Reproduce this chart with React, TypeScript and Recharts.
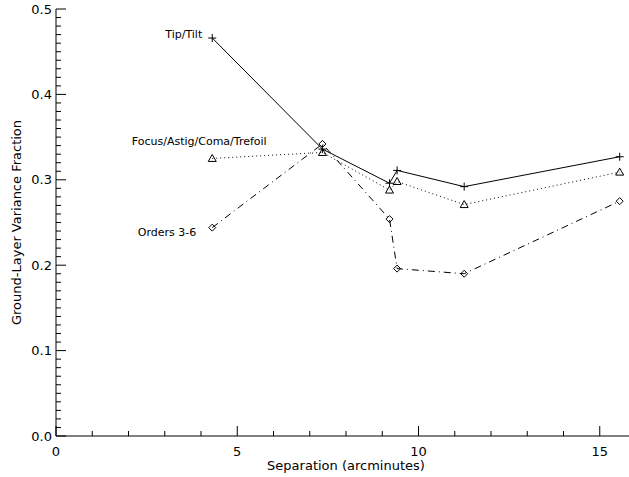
import React from "react";
import { LineChart, Line, XAxis, YAxis, LabelList, Label } from "recharts";

const separation = [4.31, 7.35, 9.2, 9.41, 11.26, 15.55];
const tipTilt = [0.466, 0.336, 0.296, 0.311, 0.292, 0.327];
const focusAstig = [0.325, 0.332, 0.288, 0.298, 0.271, 0.309];
const orders36 = [0.244, 0.342, 0.254, 0.196, 0.19, 0.275];

const xTicks = [0, 1, 2, 3, 4, 5, 6, 7, 8, 9, 10, 11, 12, 13, 14, 15, 16];
const xMajor = [0, 5, 10, 15];
const yMajor = [0, 0.1, 0.2, 0.3, 0.4, 0.5];
const yTickLabels = ["0.0", "0.1", "0.2", "0.3", "0.4", "0.5"];
const yTicks: number[] = [];
for (let i = 0; i <= 50; i++) yTicks.push(Math.round(i) / 100);

const data = separation.map((x, i) => ({
  x,
  tip: tipTilt[i],
  focus: focusAstig[i],
  orders: orders36[i],
}));

const FONT = "'DejaVu Sans', sans-serif";

const isYMajor = (v: number) => yMajor.some((m) => Math.abs(m - v) < 1e-6);
const yLabel = (v: number) => {
  const i = yMajor.findIndex((m) => Math.abs(m - v) < 1e-6);
  return i >= 0 ? yTickLabels[i] : "";
};

const XTick = (props: any) => {
  const { x, y, payload, side } = props;
  const v = payload.value;
  const major = xMajor.includes(v);
  const len = major ? 10 : 5;
  const dir = side === "bottom" ? -1 : 1;
  return (
    <g>
      <line x1={x} y1={y} x2={x} y2={y + dir * len} stroke="#000" strokeWidth={1} />
      {side === "bottom" && major && (
        <text x={x} y={y + 20} textAnchor="middle" fontSize={13} fontFamily={FONT} fill="#000">
          {v}
        </text>
      )}
    </g>
  );
};

const YTick = (props: any) => {
  const { x, y, payload, side } = props;
  const v = payload.value;
  const major = isYMajor(v);
  const len = major ? 10 : 5;
  const dir = side === "left" ? 1 : -1;
  return (
    <g>
      <line x1={x} y1={y} x2={x + dir * len} y2={y} stroke="#000" strokeWidth={1} />
      {side === "left" && major && (
        <text x={x - 4} y={y} dy="0.36em" textAnchor="end" fontSize={13} fontFamily={FONT} fill="#000">
          {yLabel(v)}
        </text>
      )}
    </g>
  );
};

const PlusDot = (props: any) => {
  const { cx, cy } = props;
  if (cx == null || cy == null) return <g />;
  const s = 4;
  return (
    <g>
      <line x1={cx - s} y1={cy} x2={cx + s} y2={cy} stroke="#000" strokeWidth={1} />
      <line x1={cx} y1={cy - s} x2={cx} y2={cy + s} stroke="#000" strokeWidth={1} />
    </g>
  );
};

const TriDot = (props: any) => {
  const { cx, cy } = props;
  if (cx == null || cy == null) return <g />;
  return (
    <polygon
      points={`${cx},${cy - 4} ${cx - 4},${cy + 3} ${cx + 4},${cy + 3}`}
      fill="none"
      stroke="#000"
      strokeWidth={1}
    />
  );
};

const DiamondDot = (props: any) => {
  const { cx, cy } = props;
  if (cx == null || cy == null) return <g />;
  const s = 3.5;
  return (
    <polygon
      points={`${cx},${cy - s} ${cx + s},${cy} ${cx},${cy + s} ${cx - s},${cy}`}
      fill="none"
      stroke="#000"
      strokeWidth={1}
    />
  );
};

const makeNote = (text: string, anchor: string, dx: number, dy: number) => (p: any) => {
  if (p.index !== 0) return null;
  return (
    <text
      x={p.x + dx}
      y={p.y + dy}
      textAnchor={anchor}
      fontSize={11}
      fontFamily={FONT}
      fill="#000"
    >
      {text}
    </text>
  );
};

export default function App() {
  return (
    <div
      style={{
        position: "absolute",
        left: 0,
        top: 0,
        width: 629,
        height: 477,
        overflow: "hidden",
        background: "#fff",
      }}
    >
      <LineChart
        width={640}
        height={477}
        data={data}
        margin={{ top: 9, right: 4, bottom: 0, left: 0 }}
      >
        <XAxis
          dataKey="x"
          type="number"
          domain={[0, 16]}
          ticks={xTicks}
          interval={0}
          tickSize={0}
          tickMargin={0}
          tickLine={false}
          axisLine={{ stroke: "#000" }}
          height={41}
          tick={(p: any) => <XTick {...p} side="bottom" />}
        >
          <Label
            content={(p: any) => {
              const vb = p.viewBox || {};
              return (
                <text
                  x={vb.x + vb.width / 2}
                  y={vb.y + 34}
                  textAnchor="middle"
                  fontSize={13}
                  fontFamily={FONT}
                  fill="#000"
                >
                  Separation (arcminutes)
                </text>
              );
            }}
          />
        </XAxis>
        <XAxis
          xAxisId="top"
          orientation="top"
          dataKey="x"
          type="number"
          domain={[0, 16]}
          ticks={xTicks}
          interval={0}
          tickSize={0}
          tickMargin={0}
          tickLine={false}
          axisLine={{ stroke: "#000" }}
          height={0}
          tick={(p: any) => <XTick {...p} side="top" />}
        />
        <YAxis
          type="number"
          domain={[0, 0.5]}
          ticks={yTicks}
          interval={0}
          tickSize={0}
          tickMargin={0}
          tickLine={false}
          axisLine={{ stroke: "#000" }}
          width={56}
          tick={(p: any) => <YTick {...p} side="left" />}
        >
          <Label
            content={(p: any) => {
              const vb = p.viewBox || {};
              const cx = 16.5;
              const cy = vb.y + vb.height / 2;
              return (
                <text
                  x={cx}
                  y={cy}
                  dy="0.36em"
                  transform={`rotate(-90, ${cx}, ${cy})`}
                  textAnchor="middle"
                  fontSize={13}
                  fontFamily={FONT}
                  fill="#000"
                >
                  Ground-Layer Variance Fraction
                </text>
              );
            }}
          />
        </YAxis>
        <YAxis
          yAxisId="right"
          orientation="right"
          type="number"
          domain={[0, 0.5]}
          ticks={yTicks}
          interval={0}
          tickSize={0}
          tickMargin={0}
          tickLine={false}
          axisLine={{ stroke: "#000" }}
          width={0}
          tick={(p: any) => <YTick {...p} side="right" />}
        />
        <Line
          dataKey="tip"
          type="linear"
          stroke="#000"
          strokeWidth={1}
          isAnimationActive={false}
          dot={(p: any) => <PlusDot key={`p${p.index}`} {...p} />}
          activeDot={false}
        >
          <LabelList dataKey="tip" content={makeNote("Tip/Tilt", "end", -10, 0)} />
        </Line>
        <Line
          dataKey="focus"
          type="linear"
          stroke="#000"
          strokeWidth={1}
          strokeDasharray="1 3"
          isAnimationActive={false}
          dot={(p: any) => <TriDot key={`t${p.index}`} {...p} />}
          activeDot={false}
        >
          <LabelList
            dataKey="focus"
            content={makeNote("Focus/Astig/Coma/Trefoil", "middle", -13, -13)}
          />
        </Line>
        <Line
          dataKey="orders"
          type="linear"
          stroke="#000"
          strokeWidth={1}
          strokeDasharray="7 4 1 4"
          isAnimationActive={false}
          dot={(p: any) => <DiamondDot key={`d${p.index}`} {...p} />}
          activeDot={false}
        >
          <LabelList dataKey="orders" content={makeNote("Orders 3-6", "end", -16, 8)} />
        </Line>
      </LineChart>
    </div>
  );
}
